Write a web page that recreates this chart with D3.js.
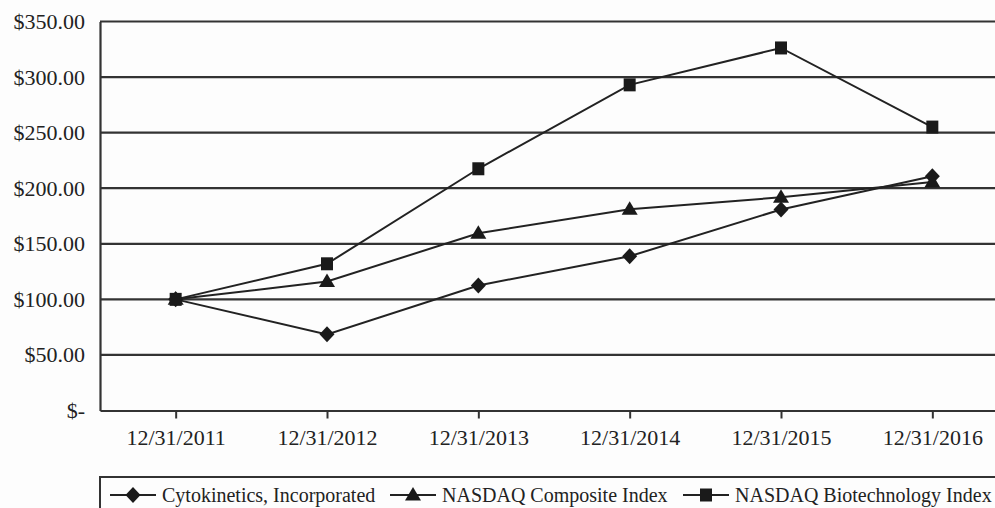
<!DOCTYPE html>
<html>
  <head>
    <meta charset="UTF-8">
    <title>Cumulative total return</title>
    <script src="https://d3js.org/d3.v7.min.js"></script>
    <style>
    body { margin: 0; background: #fdfdfd; }
    text { font-family: "Liberation Serif", "Times New Roman", serif; fill: #222; }
    .grid { stroke: #333; stroke-width: 2.2px; }
    .series { fill: none; stroke: #222; stroke-width: 2px; }
    .mark { fill: #1a1a1a; }
    </style>
  </head>
  <body>
  <script type="text/javascript">

  var dates = ['12/31/2011', '12/31/2012', '12/31/2013', '12/31/2014', '12/31/2015', '12/31/2016'];
  var yTicks = [0, 50, 100, 150, 200, 250, 300, 350];

  var cytokinetics = [100, 68.5, 112.5, 138.8, 180.8, 210.8];
  var nasdaqComposite = [100, 116, 159.5, 181, 191.8, 205.5];
  var nasdaqBiotech = [100, 132, 217.5, 293, 326.2, 255];

  var seriesNames = ['Cytokinetics, Incorporated', 'NASDAQ Composite Index', 'NASDAQ Biotechnology Index'];

  // custom marker shapes (drawn through d3.symbol)
  var diamond = { draw: function(c, s) { c.moveTo(0, -8); c.lineTo(7.5, 0); c.lineTo(0, 8); c.lineTo(-7.5, 0); c.closePath(); } };
  var triangle = { draw: function(c, s) { c.moveTo(0, -8); c.lineTo(8, 5.5); c.lineTo(-8, 5.5); c.closePath(); } };
  var square = { draw: function(c, s) { c.rect(-6, -6.5, 12, 13); } };

  var series = [
    { name: seriesNames[0], values: cytokinetics, shape: diamond },
    { name: seriesNames[1], values: nasdaqComposite, shape: triangle },
    { name: seriesNames[2], values: nasdaqBiotech, shape: square }
  ];

  var W = 995, H = 508;
  var svg = d3.select('body').append('svg').attr('width', W).attr('height', H);

  var x = d3.scalePoint().domain(dates).range([100, 1008]).padding(0.5);
  var y = d3.scaleLinear().domain([0, 350]).range([410.5, 21.5]);

  // gridlines
  svg.selectAll('.grid')
    .data(yTicks.filter(d => d > 0))
    .enter().append('line')
      .attr('class', 'grid')
      .attr('x1', 100).attr('x2', 1008)
      .attr('y1', d => y(d)).attr('y2', d => y(d));

  // y axis
  var yAxis = svg.append('g')
    .attr('transform', 'translate(100,0)')
    .call(d3.axisLeft(y).tickValues(yTicks).tickSize(0).tickPadding(15)
      .tickFormat(d => d === 0 ? '$-' : '$' + d3.format('.2f')(d)));
  yAxis.select('.domain').attr('stroke', '#333').attr('stroke-width', 2.2);
  yAxis.selectAll('text').style('font-size', '22px').style('font-family', '"Liberation Serif", serif').attr('fill', '#222');

  // x axis
  var xAxis = svg.append('g')
    .attr('transform', 'translate(0,' + y(0) + ')')
    .call(d3.axisBottom(x).tickSize(8).tickPadding(11).tickSizeOuter(0));
  xAxis.select('.domain').attr('stroke', '#333').attr('stroke-width', 2.2);
  xAxis.selectAll('.tick line').attr('stroke', '#333').attr('stroke-width', 2);
  xAxis.selectAll('text').style('font-size', '22px').style('font-family', '"Liberation Serif", serif').attr('fill', '#222');

  var line = d3.line()
    .x((d, i) => x(dates[i]))
    .y(d => y(d));

  // lines first, then markers on top
  series.forEach(function(s) {
    svg.append('path').attr('class', 'series').attr('d', line(s.values));
  });
  series.forEach(function(s) {
    svg.selectAll(null)
      .data(s.values)
      .enter().append('path')
        .attr('class', 'mark')
        .attr('transform', (d, i) => 'translate(' + x(dates[i]) + ',' + y(d) + ')')
        .attr('d', d3.symbol().type(s.shape));
  });

  // legend
  var legend = svg.append('g');
  legend.append('rect')
    .attr('x', 100).attr('y', 477).attr('width', 1000).attr('height', 80)
    .attr('fill', 'none').attr('stroke', '#333').attr('stroke-width', 2);

  var legendX = [110, 390, 683];
  series.forEach(function(s, i) {
    var g = legend.append('g').attr('transform', 'translate(' + legendX[i] + ',495)');
    g.append('line').attr('x1', 0).attr('x2', 46).attr('y1', 0).attr('y2', 0)
      .attr('stroke', '#222').attr('stroke-width', 2);
    g.append('path').attr('class', 'mark').attr('transform', 'translate(23,0)')
      .attr('d', d3.symbol().type(s.shape));
    g.append('text').attr('x', 52).attr('y', 0).attr('dy', '0.34em')
      .style('font-size', '20px').text(s.name);
  });

  </script>
  </body>
</html>
